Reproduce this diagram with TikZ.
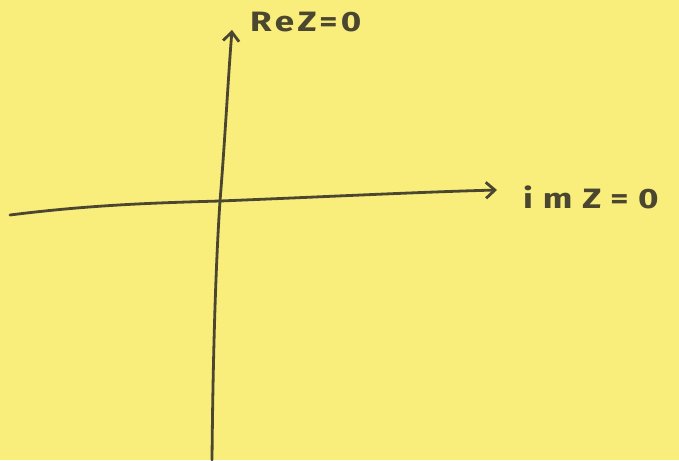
\documentclass[tikz,border=0pt]{standalone}
\usepackage{fontspec}
\setmainfont{Fira Sans}
\usetikzlibrary{arrows.meta}
\definecolor{paper}{HTML}{F9EE7C}
\definecolor{ink}{HTML}{4A4630}
\tikzset{
  axis/.style={draw=ink, line width=2.8pt, line cap=round,
    -{Straight Barb[length=9pt,width=16pt,line width=2.8pt]}},
  lbl/.style={text=ink, font=\bfseries\fontsize{28}{28}\selectfont, inner sep=0pt}
}
\begin{document}
\begin{tikzpicture}[x=1pt,y=-1pt]
\fill[paper] (0,0) rectangle (679,460);
\useasboundingbox (0,0) rectangle (679,460);
\coordinate (hs) at (10,215);
\coordinate (o) at (220,201);
\coordinate (he) at (497,190);
\coordinate (vs) at (212,460);
\coordinate (ve) at (232,30);
\draw[axis] (hs) .. controls (90,205) and (150,203) .. (o) .. controls (320,197) and (420,192) .. (he);
\draw[axis] (vs) .. controls (213,350) and (216,260) .. (o) .. controls (225,140) and (228,80) .. (ve);
\node[lbl, anchor=west] (re) at (250,22) {\scalebox{1.25}[1]{\addfontfeatures{LetterSpace=10}ReZ=0}};
\node[lbl, anchor=west] (im) at (523,197) {\scalebox{1.25}[1]{\addfontfeatures{LetterSpace=28}imZ=0}};
\end{tikzpicture}
\end{document}
